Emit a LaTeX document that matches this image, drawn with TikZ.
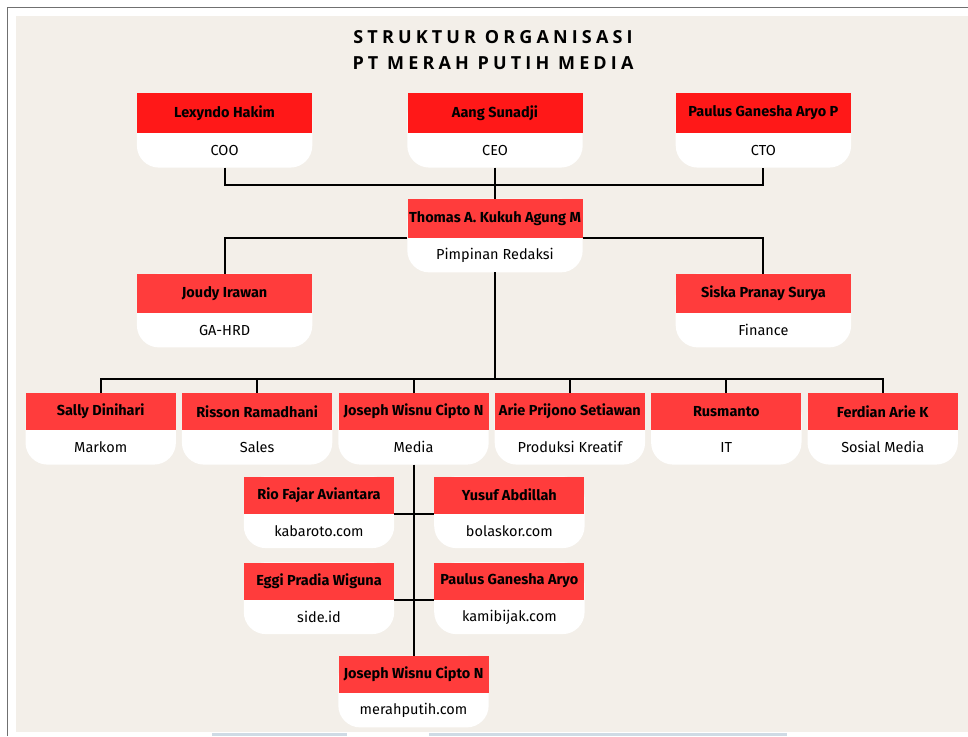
\documentclass[tikz,border=0pt]{standalone}
\usepackage{fontspec}
\setmainfont{Fira Sans}
\newfontfamily\titlefont[LetterSpace=23]{Open Sans}
\usetikzlibrary{positioning}
\pgfdeclarelayer{bg}
\pgfsetlayers{bg,main}
\definecolor{paper}{RGB}{243,239,233}
\definecolor{topred}{RGB}{255,24,24}
\definecolor{boxred}{RGB}{255,60,60}
\definecolor{framegray}{RGB}{112,112,112}
\definecolor{strip}{RGB}{207,219,229}

% #1 width style, #2 node name, #3 placement, #4 person, #5 position
\newcommand{\member}[5]{%
	\node (#2) [namebox, #1, #3] {#4};
	\node (#2-role) [rolebox, #1, below = 0pt of #2] {#5};
	\begin{pgfonlayer}{bg}
	\fill[white, rounded corners=22pt] (#2.north west) rectangle (#2-role.south east);
	\end{pgfonlayer}
}

\begin{document}
\begin{tikzpicture}[
x = 1pt, y = -1pt,
every node/.style = {
	font = \fontsize{14.5}{16}\selectfont,
	align = center
},
namebox/.style = {
	fill = boxred,
	inner sep = 0pt,
	minimum height = 38pt,
	font = \fontsize{14.5}{16}\selectfont\bfseries
},
rolebox/.style = {
	inner sep = 0pt,
	minimum height = 34pt
},
wide/.style = {minimum width = 175pt},
narrow/.style = {minimum width = 150pt},
link/.style = {draw, line width = 2pt}
]

\useasboundingbox (0,0) rectangle (968,736);
\begin{pgfonlayer}{bg}
\fill[paper] (16,16) rectangle (968,732);
\fill[strip] (212,732.5) rectangle (347,736);
\fill[strip] (429,732.5) rectangle (787,736);
\end{pgfonlayer}
\draw[framegray, line width=1.5pt] (7.3,736) -- (7.3,7.3) -- (968,7.3);

\node (title) at (493,50) [font = \titlefont\bfseries\fontsize{18}{26}\selectfont] {STRUKTUR ORGANISASI\\PT MERAH PUTIH MEDIA};

% direksi
\member{wide}{ceo}{at = {(495,113)}, fill = topred, minimum height = 40pt}{Aang Sunadji}{CEO}
\member{wide}{coo}{left = 95pt of ceo, fill = topred, minimum height = 40pt}{Lexyndo Hakim}{COO}
\member{wide}{cto}{right = 93pt of ceo, fill = topred, minimum height = 40pt}{Paulus Ganesha Aryo P}{CTO}

\member{wide}{pemred}{below = 31pt of ceo-role, minimum height = 39pt}{Thomas A. Kukuh Agung M}{Pimpinan Redaksi}
\member{wide}{gahrd}{below = 106pt of coo-role, minimum height = 39pt}{Joudy Irawan}{GA-HRD}
\member{wide}{finance}{below = 106pt of cto-role, minimum height = 39pt}{Siska Pranay Surya}{Finance}

% divisi
\member{narrow}{media}{at = {(413.5,411.5)}, minimum height = 37pt}{Joseph Wisnu Cipto N}{Media}
\member{narrow}{sales}{left = 6pt of media, minimum height = 37pt}{Risson Ramadhani}{Sales}
\member{narrow}{markom}{left = 6pt of sales, minimum height = 37pt}{Sally Dinihari}{Markom}
\member{narrow}{produksi}{right = 6pt of media, minimum height = 37pt}{Arie Prijono Setiawan}{Produksi Kreatif}
\member{narrow}{it}{right = 6pt of produksi, minimum height = 37pt}{Rusmanto}{IT}
\member{narrow}{sosmed}{right = 6pt of it, minimum height = 37pt}{Ferdian Arie K}{Sosial Media}

% portal
\member{narrow}{kabaroto}{at = {(319,495)}, minimum height = 37pt}{Rio Fajar Aviantara}{kabaroto.com}
\member{narrow}{bolaskor}{right = 40pt of kabaroto, minimum height = 37pt}{Yusuf Abdillah}{bolaskor.com}
\member{narrow}{side}{at = {(319,581)}, minimum height = 37pt}{Eggi Pradia Wiguna}{side.id}
\member{narrow}{kamibijak}{right = 40pt of side, minimum height = 37pt}{Paulus Ganesha Aryo}{kamibijak.com}
\member{narrow}{merahputih}{below = 191pt of media-role, minimum height = 37pt}{Joseph Wisnu Cipto N}{merahputih.com}

\draw[link] (coo-role.south) -- ++(0,17) -| (cto-role.south);
\draw[link] (ceo-role.south) -- (pemred.north);
\draw[link] (pemred.south west) -| (gahrd.north);
\draw[link] (pemred.south east) -| (finance.north);

\coordinate [above = 14pt of markom.north] (bar);
\draw[link] (pemred-role.south) -- (pemred-role.south |- bar);
\draw[link] (markom.north) -- (bar) -| (sosmed.north);
\foreach \n in {sales, media, produksi, it}
	\draw[link] (\n.north |- bar) -- (\n.north);

\draw[link] (media-role.south) -- (merahputih.north);
\draw[link] (kabaroto.south east) -- (bolaskor.south west);
\draw[link] (side.south east) -- (kamibijak.south west);

\end{tikzpicture}
\end{document}
